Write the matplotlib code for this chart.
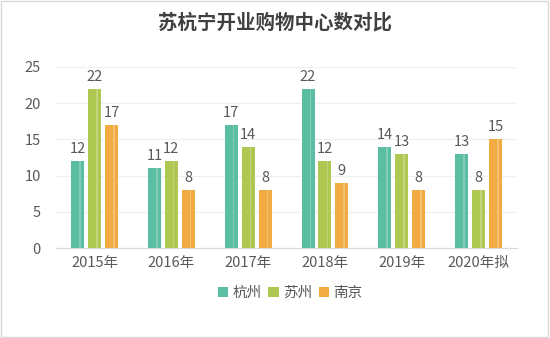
import numpy as np
import matplotlib
matplotlib.use("Agg")
import matplotlib.pyplot as plt
from matplotlib.patches import Rectangle

plt.rcParams['font.family'] = ['Noto Sans CJK SC', 'DejaVu Sans']

years = ["2015年", "2016年", "2017年", "2018年", "2019年", "2020年拟"]
cities = ["杭州", "苏州", "南京"]
hangzhou = [12, 11, 17, 22, 14, 13]
suzhou = [22, 12, 14, 12, 13, 8]
nanjing = [17, 8, 8, 9, 8, 15]
colors = ["#5BBEA2", "#AEC851", "#F2AB42"]

fig = plt.figure(figsize=(5.5, 3.38), dpi=100)
ax = fig.add_axes([0.102, 0.266, 0.838, 0.536])

x = np.arange(len(years))
off = 0.22
w = 0.17
txt = "#595959"
for i, (vals, c) in enumerate(zip([hangzhou, suzhou, nanjing], colors)):
    pos = x + (i - 1) * off
    ax.bar(pos, vals, width=w, color=c, label=cities[i], zorder=3)
    # subtle light stripe on each bar
    ax.bar(pos + w * 0.18, vals, width=w * 0.12, color="white", alpha=0.25, zorder=4)
    for p, v in zip(pos, vals):
        ax.text(p, v + 0.7, str(v), ha="center", va="bottom", fontsize=10.5, color=txt)

ax.set_xlim(-0.5, len(years) - 0.5)
ax.set_ylim(0, 25)
ax.set_yticks(range(0, 26, 5))
ax.set_xticks(x)
ax.set_xticklabels(years)
ax.tick_params(axis="both", length=0, labelsize=10.5, colors=txt)
ax.tick_params(axis="x", pad=6)
ax.tick_params(axis="y", pad=11)
ax.grid(axis="y", color="#F0F0F0", linewidth=1, zorder=0)
for s in ["top", "right", "left"]:
    ax.spines[s].set_visible(False)
ax.spines["bottom"].set_color("#D9D9D9")

fig.text(0.5, 0.932, "苏杭宁开业购物中心数对比", ha="center", va="center",
         fontsize=14, color="#404040", fontweight="bold")

ax.legend(loc="center", bbox_to_anchor=(0.528, 1 - 293 / 338), bbox_transform=fig.transFigure,
          ncol=3, frameon=False, fontsize=10.5, handlelength=0.7, handleheight=0.7,
          handletextpad=0.3, columnspacing=0.45, labelcolor=txt)

fig.patches.append(Rectangle((0.002, 0.003), 0.995, 0.994, transform=fig.transFigure,
                             fill=False, edgecolor="#D9D9D9", linewidth=1))

fig.savefig("out.png", dpi=100)
